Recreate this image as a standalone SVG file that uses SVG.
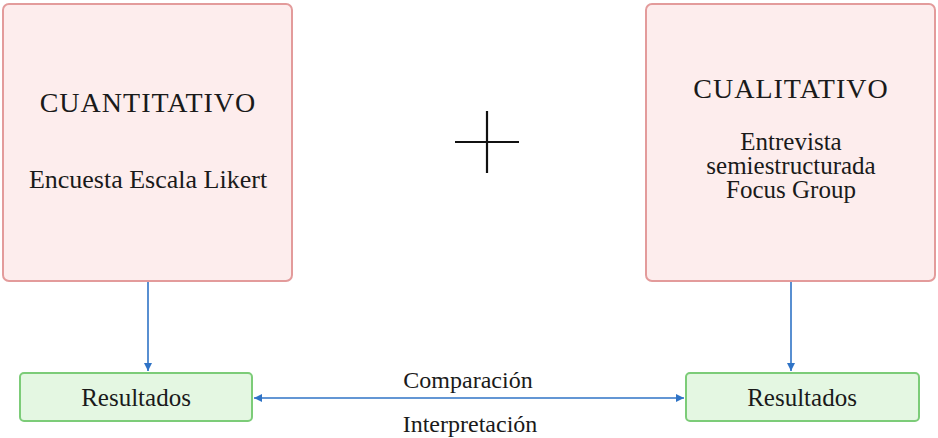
<svg xmlns="http://www.w3.org/2000/svg" width="938" height="438" viewBox="0 0 938 438">
<style>
.big{fill:#fdeded;stroke:#e39b9b;stroke-width:2}
.res{fill:#e4f7e2;stroke:#7ccc78;stroke-width:2}
text{font-family:"Liberation Serif","Times New Roman",serif;fill:#1a1a1a;text-anchor:middle}
.t1{font-size:28px;letter-spacing:1px}
.t2{font-size:26px}
.t2b{font-size:25px}
.t3{font-size:24px}
.t4{font-size:25px}
.conn{stroke:#2f73c6;stroke-width:1.6;fill:none}
</style>
<defs>
<marker id="ah" viewBox="0 0 10 10" refX="10" refY="5" markerWidth="8" markerHeight="8" markerUnits="userSpaceOnUse" orient="auto-start-reverse">
<path d="M0,0 L10,5 L0,10 z" fill="#2f73c6"/>
</marker>
</defs>
<g id="cuantitativo">
<rect class="big" x="3" y="4" width="289" height="277" rx="6"/>
<text class="t1" x="148" y="112">CUANTITATIVO</text>
<text class="t2" x="148" y="188">Encuesta Escala Likert</text>
</g>
<g id="cualitativo">
<rect class="big" x="646" y="4" width="289" height="277" rx="6"/>
<text class="t1" x="791" y="98">CUALITATIVO</text>
<text class="t2b" x="791" y="150">Entrevista</text>
<text class="t2b" x="791" y="174">semiestructurada</text>
<text class="t2b" x="791" y="198">Focus Group</text>
</g>
<g id="plus">
<line x1="455" y1="142" x2="519" y2="142" stroke="#111" stroke-width="2.2"/>
<line x1="487" y1="111" x2="487" y2="173" stroke="#111" stroke-width="2.2"/>
</g>
<g id="resultados1">
<rect class="res" x="20" y="373" width="232" height="48" rx="4"/>
<text class="t4" x="136" y="406">Resultados</text>
</g>
<g id="resultados2">
<rect class="res" x="686" y="373" width="233" height="48" rx="4"/>
<text class="t4" x="802" y="406">Resultados</text>
</g>
<g id="connectors">
<line class="conn" x1="148" y1="282" x2="148" y2="371" marker-end="url(#ah)"/>
<line class="conn" x1="791" y1="282" x2="791" y2="371" marker-end="url(#ah)"/>
<line class="conn" x1="254" y1="398" x2="684" y2="398" marker-start="url(#ah)" marker-end="url(#ah)"/>
<text class="t3" x="468" y="388">Comparación</text>
<text class="t3" x="470" y="432">Interpretación</text>
</g>
</svg>
